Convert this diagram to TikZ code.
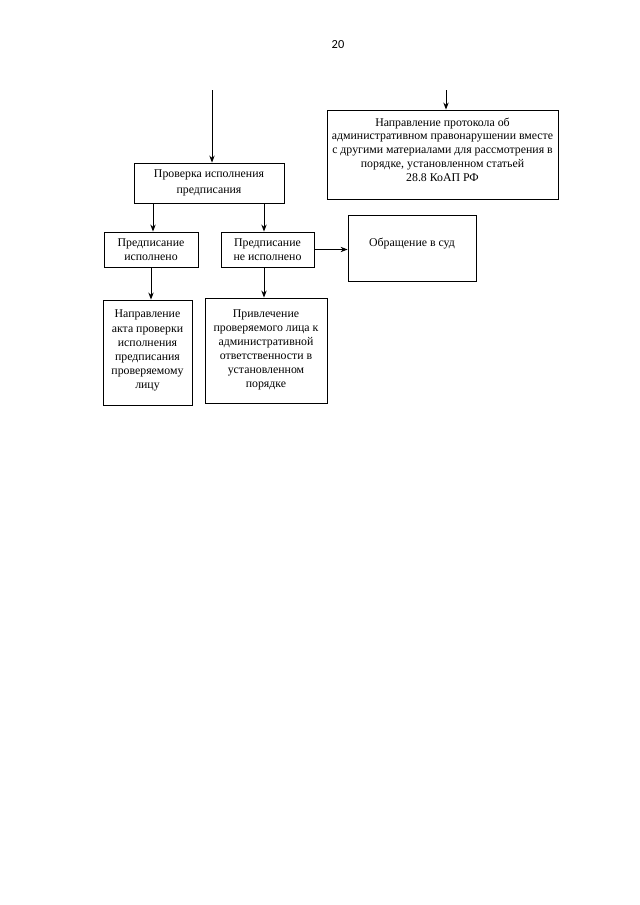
\documentclass[tikz,border=0pt]{standalone}
\usepackage{fontspec}
\setmainfont{Liberation Serif}
\newfontfamily\pagefont{Carlito}
\usetikzlibrary{arrows.meta}
\newcommand{\tbox}[4]{\parbox[c][#2][t]{#1}{\centering\vspace*{#3}#4\par}}
\begin{document}
\begin{tikzpicture}[x=0.93pt,y=-0.93pt,
  box/.style={draw, line width=0.85pt, inner sep=0pt, align=center,
    font=\fontsize{11}{13}\selectfont},
  arr/.style={-{Stealth[length=6.5pt,width=5pt]}, line width=0.85pt}]
\useasboundingbox (0,0) rectangle (640,905);
\node[font=\pagefont\fontsize{11.5}{13}\selectfont] (pg) at (338,45) {20};
% boxes
\node[box, minimum width=139.5pt, minimum height=37.2pt,
  font=\fontsize{11}{14.5}\selectfont] (A) at (209,183)
  {Проверка исполнения\\предписания};
\node[box] (P) at (442.5,154.5)
  {\tbox{214.8pt}{82.8pt}{7.2pt}{\fontsize{11}{12.8}\selectfont Направление протокола об\\административном правонарушении вместе\\с другими материалами для рассмотрения в\\порядке, установленном статьей\\28.8 КоАП РФ}};
\node[box, minimum width=87.4pt, minimum height=32.6pt] (B1) at (151,249.5)
  {Предписание\\исполнено};
\node[box, minimum width=86.5pt, minimum height=32.6pt] (B2) at (267.5,249.5)
  {Предписание\\не исполнено};
\node[box] (C) at (412,248)
  {\tbox{119pt}{61.4pt}{21.5pt}{Обращение в суд}};
\node[box] (D1) at (147.5,352.5)
  {\tbox{82.8pt}{97.7pt}{9.5pt}{\fontsize{11}{13.1}\selectfont Направление\\акта проверки\\исполнения\\предписания\\проверяемому\\лицу}};
\node[box] (D2) at (266,350.5)
  {\tbox{113.5pt}{97.7pt}{11pt}{\fontsize{11}{13}\selectfont Привлечение\\проверяемого лица к\\административной\\ответственности в\\установленном\\порядке}};
% connectors
\coordinate (s1) at (212,90);
\coordinate (s2) at (446,90);
\coordinate (xa) at (153,0);
\coordinate (xb) at (264,0);
\draw[arr] (s1) -- (s1 |- A.north);
\draw[arr] (s2) -- (s2 |- P.north);
\draw[arr] (xa |- A.south) -- (xa |- B1.north);
\draw[arr] (xb |- A.south) -- (xb |- B2.north);
\draw[arr] (B1.south) -- (B1.south |- D1.north);
\draw[arr] (xb |- B2.south) -- (xb |- D2.north);
\draw[arr] (B2.east) -- (B2.east -| C.west);
\end{tikzpicture}
\end{document}
